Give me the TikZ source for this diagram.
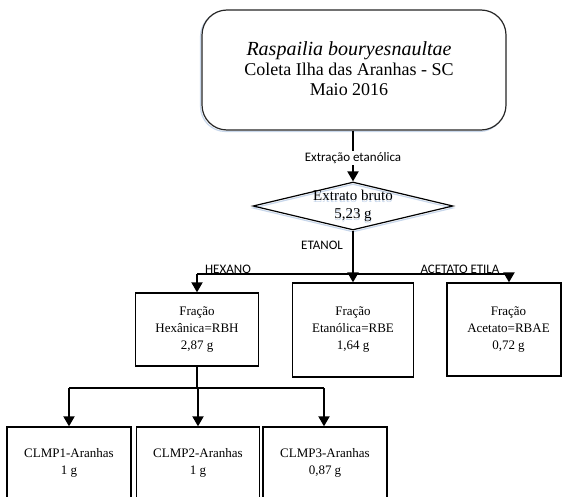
\documentclass[tikz,border=0pt]{standalone}
\usepackage{fontspec}
\setmainfont{Liberation Serif}
\newfontfamily\lblfont{Carlito}
\usetikzlibrary{shapes.geometric,arrows.meta}
\definecolor{shadowblue}{RGB}{200,215,235}
\begin{document}
\begin{tikzpicture}[x=1pt,y=-1pt,
  box/.style={draw, line width=1.3pt, rectangle, inner sep=0pt, align=center,
    font=\fontsize{13}{17}\selectfont},
  wire/.style={line width=1.9pt},
  arr/.style={wire, -{Triangle[length=10pt,width=11pt]}},
  lbl/.style={font=\lblfont\fontsize{13}{15}\selectfont, inner sep=1pt},
]
\path[use as bounding box, clip] (0,0) rectangle (562,497);

% sample description
\node[draw=shadowblue, line width=1.2pt, rounded corners=25pt,
  minimum width=304pt, minimum height=120pt] (srcshadow) at (352.5,71.5) {};
\node[draw=black!85, fill=white, line width=1.2pt, rounded corners=25pt,
  minimum width=304pt, minimum height=120pt] (src) at (354,70) {};
\node[align=center, font=\fontsize{18}{20}\selectfont] (srctxt) at (349,69)
  {{\fontsize{20}{20}\selectfont\itshape Raspailia bouryesnaultae}\\
   Coleta Ilha das Aranhas - SC\\Maio 2016};

% crude extract
\node[diamond, draw=shadowblue, line width=1.2pt, minimum width=200pt,
  minimum height=48pt, inner sep=0pt] (crudeshadow) at (353,208) {};
\node[diamond, draw, line width=1.2pt, minimum width=200pt,
  minimum height=48pt, inner sep=0pt] (crude) at (353,206) {};
\node[align=center, text=shadowblue, font=\fontsize{15}{18}\selectfont] (crudeglow) at (353,207.5)
  {Extrato bruto\\5,23 g};
\node[align=center, font=\fontsize{15}{18}\selectfont] (crudetxt) at (353,206)
  {Extrato bruto\\5,23 g};

% fractions
\node[box, minimum width=123pt, minimum height=73pt] (rbh) at (197,329.5)
  {Fração\\Hexânica=RBH\\2,87 g};
\node[box, minimum width=121pt, minimum height=94pt] (rbe) at (353,330)
  {Fração\\Etanólica=RBE\\1,64 g};
\node[box, minimum width=114pt, minimum height=93pt] (rbae) at (504,329.5) {};
\node[align=center, font=\fontsize{13}{17}\selectfont] (rbaetxt) at (508.5,330)
  {Fração\\Acetato=RBAE\\0,72 g};

% sub-fractions of the hexane fraction
\node[box, minimum width=124pt, minimum height=72pt] (c1) at (69,463)
  {CLMP1-Aranhas\\1 g};
\node[box, minimum width=123pt, minimum height=72pt] (c2) at (198,463)
  {CLMP2-Aranhas\\1 g};
\node[box, minimum width=124pt, minimum height=72pt] (c3) at (325,463)
  {CLMP3-Aranhas\\0,87 g};

% extraction
\draw[arr] (crude.north |- src.south) -- (crude.north);
\node[lbl, fill=white] (ext) at (353,158) {Extração etanólica};

% partition
\coordinate (hx) at (197,274);
\coordinate (ac) at (509,274);
\draw[wire] (hx) -- (ac);
\draw[arr] (crude.south) -- (rbe.north);
\draw[arr] (hx) -- (hx |- rbh.north);
\draw[arr] (ac) -- (ac |- rbae.north);
\node[lbl] (etanol) at (322,245) {ETANOL};
\node[lbl, anchor=base] (hexano) at (228,273) {HEXANO};
\node[lbl, anchor=base] (acetato) at (460,273) {ACETATO ETILA};

% column fractionation
\coordinate (b1) at (69,388);
\coordinate (b3) at (324,388);
\draw[wire] (rbh.south) -- (rbh.south |- b1);
\draw[wire] (b1) -- (b3);
\draw[arr] (b1) -- (c1.north);
\draw[arr] (c2.north |- b1) -- (c2.north);
\draw[arr] (b3) -- (b3 |- c3.north);
\end{tikzpicture}
\end{document}
